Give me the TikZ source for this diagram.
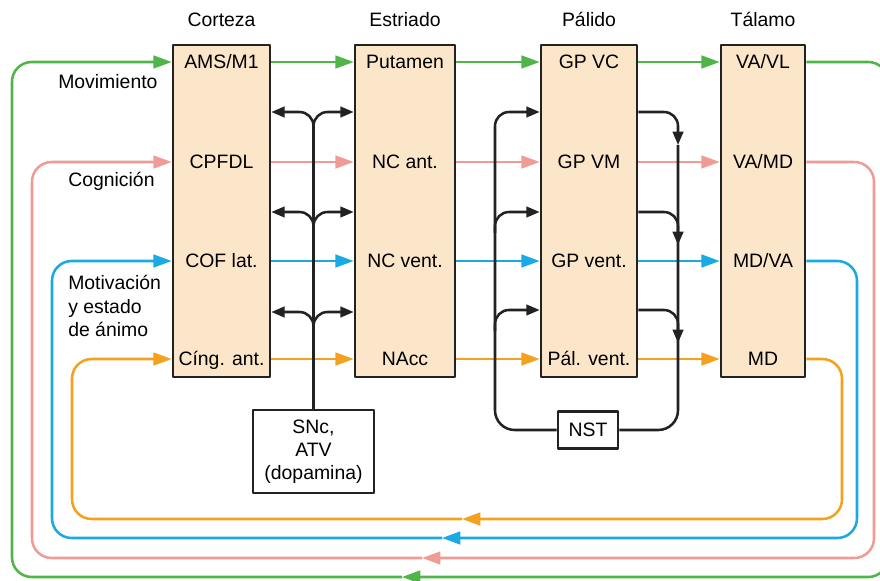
\documentclass[tikz,border=0pt]{standalone}
\usepackage{fontspec}
\setmainfont{Liberation Sans}
\usetikzlibrary{arrows.meta,positioning}
\definecolor{cgreen}{HTML}{4FB548}
\definecolor{cpink}{HTML}{EF9C97}
\definecolor{cblue}{HTML}{1AA9E2}
\definecolor{corange}{HTML}{F4A11F}
\definecolor{cfill}{HTML}{FCE6CA}
\definecolor{cline}{HTML}{222222}
\tikzset{
  every picture/.style={font=\fontsize{13.8}{16.4}\selectfont, line join=round},
  column/.style={draw=cline, line width=1.8pt, fill=cfill, minimum height=8.3cm, inner sep=0pt},
  plainbox/.style={draw=cline, line width=1.8pt, fill=white, align=center, inner sep=0pt},
  lbl/.style={inner sep=0pt, text height=11pt, text depth=2pt},
  side/.style={inner sep=0pt, anchor=west, align=left},
  row/.style={draw=#1, line width=1.8pt, -{Triangle[length=13pt,width=9pt]}},
  loop/.style={row=#1, rounded corners=14pt},
  dopa/.style={draw=cline, line width=1.8pt, rounded corners=10pt, -{Triangle[length=9.5pt,width=7.5pt]}},
  dopaline/.style={draw=cline, line width=1.8pt, rounded corners=14pt},
}

\begin{document}
\begin{tikzpicture}[x=0.025cm,y=0.025cm]
\useasboundingbox (0,0) rectangle (880,580);

% columns
\node[column, minimum width=2.425cm] (ctx) at (221.5,369) {};
\node[column, minimum width=2.5cm] (str) at (405,369) {};
\node[column, minimum width=2.4cm] (pal) at (589,369) {};
\node[column, minimum width=2.1cm] (tal) at (763,369) {};

\node[lbl] (tctx) at (ctx.north|-0,560) {Corteza};
\node[lbl] (tstr) at (str.north|-0,560) {Estriado};
\node[lbl] (tpal) at (pal.north|-0,560) {Pálido};
\node[lbl] (ttal) at (tal.north|-0,560) {Tálamo};

% row labels
\node[lbl] (ams) at (221.5,518) {AMS/M1};
\node[lbl] (cpfdl) at (221.5,418) {CPFDL};
\node[lbl] (cof) at (221.5,319) {COF lat.};
\node[lbl] (cing) at (221.5,221) {Cíng. ant.};
\node[lbl] (put) at (405,518) {Putamen};
\node[lbl] (ncant) at (405,418) {NC ant.};
\node[lbl] (ncvent) at (405,319) {NC vent.};
\node[lbl] (nacc) at (405,221) {NAcc};
\node[lbl] (gpvc) at (589,518) {GP VC};
\node[lbl] (gpvm) at (589,418) {GP VM};
\node[lbl] (gpvent) at (589,319) {GP vent.};
\node[lbl] (palvent) at (589,221) {Pál. vent.};
\node[lbl] (vavl) at (763,518) {VA/VL};
\node[lbl] (vamd) at (763,418) {VA/MD};
\node[lbl] (mdva) at (763,319) {MD/VA};
\node[lbl] (md) at (763,221) {MD};

\node[side] (mov) at (58,498) {Movimiento};
\node[side] (cog) at (68,399) {Cognición};
\node[side] (mot) at (68,274) {Motivación\\y estado\\de ánimo};

\node[plainbox, minimum width=3.025cm, minimum height=2.075cm] (snc) at (313.5,128.5) {SNc,\\ATV\\(dopamina)};
\node[plainbox, minimum width=1.5cm, minimum height=0.925cm] (nst) at (588,150) {NST};

% straight rows
\draw[row=cgreen] (ctx.east|-ams) -- (str.west|-put);
\draw[row=cgreen] (str.east|-put) -- (pal.west|-gpvc);
\draw[row=cgreen] (pal.east|-gpvc) -- (tal.west|-vavl);
\draw[row=cpink] (ctx.east|-cpfdl) -- (str.west|-ncant);
\draw[row=cpink] (str.east|-ncant) -- (pal.west|-gpvm);
\draw[row=cpink] (pal.east|-gpvm) -- (tal.west|-vamd);
\draw[row=cblue] (ctx.east|-cof) -- (str.west|-ncvent);
\draw[row=cblue] (str.east|-ncvent) -- (pal.west|-gpvent);
\draw[row=cblue] (pal.east|-gpvent) -- (tal.west|-mdva);
\draw[row=corange] (ctx.east|-cing) -- (str.west|-nacc);
\draw[row=corange] (str.east|-nacc) -- (pal.west|-palvent);
\draw[row=corange] (pal.east|-palvent) -- (tal.west|-md);

% return loops
\coordinate (gback) at (402,3);
\coordinate (pback) at (422,22);
\coordinate (bback) at (442,42);
\coordinate (oback) at (462,61);
\draw[loop=cgreen] (tal.east|-vavl) -| (888,3) -- (gback);
\draw[loop=cgreen] (gback) -| (12,518) -- (ctx.west|-ams);
\draw[loop=cpink] (tal.east|-vamd) -| (874,22) -- (pback);
\draw[loop=cpink] (pback) -| (32,418) -- (ctx.west|-cpfdl);
\draw[loop=cblue] (tal.east|-mdva) -| (857,42) -- (bback);
\draw[loop=cblue] (bback) -| (52,319) -- (ctx.west|-cof);
\draw[loop=corange] (tal.east|-md) -| (842,61) -- (oback);
\draw[loop=corange] (oback) -| (72,221) -- (ctx.west|-cing);

% dopamine
\draw[dopaline] (snc.north) -- (snc.north|-0,452);
\foreach \y in {468,368,268}{
  \draw[dopa] (snc.north|-0,{\y-16}) |- (ctx.east|-0,\y);
  \draw[dopa] (snc.north|-0,{\y-16}) |- (str.west|-0,\y);
}

% pallidal loop via NST
\draw[dopaline] (495,447) |- (nst.west);
\draw[dopaline] (678,435) |- (nst.east);
\foreach \y in {468,368,270}{
  \draw[dopa] (495,{\y-21}) |- (pal.west|-0,\y);
  \draw[dopa] (pal.east|-0,\y) -| (678,{\y-33});
}
\end{tikzpicture}
\end{document}
